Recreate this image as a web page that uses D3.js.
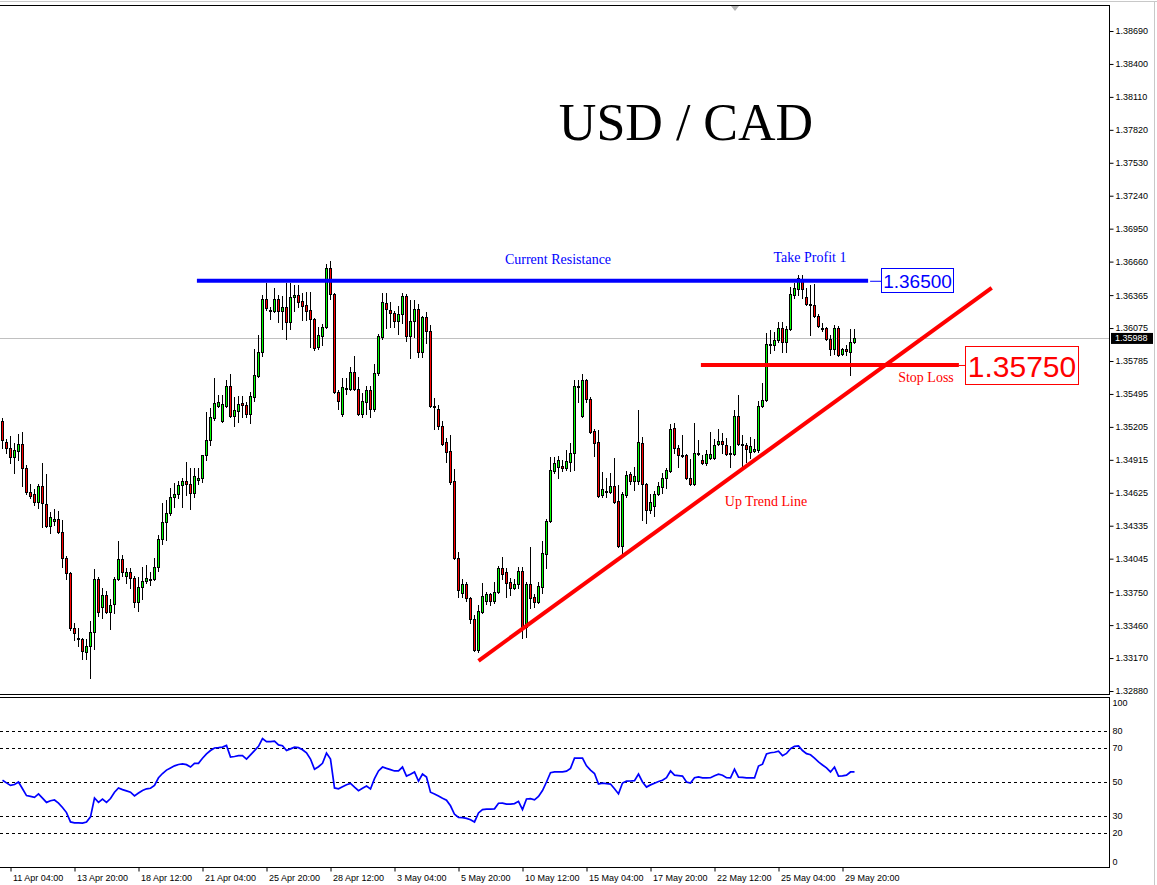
<!DOCTYPE html>
<html>
<head>
<meta charset="utf-8">
<script src="https://cdn.jsdelivr.net/npm/d3@7"></script>
<style>
  body { margin: 0; background: #fff; }
  svg { display: block; }
</style>
</head>
<body>
<script>
const w = 1157;
const h = 885;

// H4 candles
const opens = [1.35258,1.35073,1.35021,1.34941,1.34994,1.35056,1.34845,1.34633,1.34616,1.34545,
1.34686,1.34528,1.34334,1.34378,1.34396,1.34281,1.34053,1.33921,1.33437,1.33340,
1.33340,1.33225,1.33278,1.33401,1.33868,1.33621,1.33727,1.33577,1.33648,1.33868,
1.34044,1.33894,1.33929,1.33877,1.33665,1.33797,1.33850,1.33859,1.33868,1.33973,
1.34220,1.34369,1.34449,1.34589,1.34616,1.34695,1.34730,1.34704,1.34625,1.34739,
1.34757,1.34959,1.35091,1.35285,1.35390,1.35258,1.35390,1.35566,1.35302,1.35346,
1.35417,1.35399,1.35320,1.35469,1.35654,1.35865,1.36332,1.36235,1.36226,1.36332,
1.36226,1.36261,1.36129,1.36349,1.36367,1.36314,1.36279,1.36235,1.36156,1.35909,
1.36006,1.36085,1.36605,1.36376,1.35513,1.35320,1.35549,1.35540,1.35689,1.35540,
1.35320,1.35425,1.35531,1.35364,1.35681,1.35997,1.36297,1.36235,1.36209,1.36138,
1.36200,1.36358,1.36006,1.36138,1.36244,1.35865,1.36173,1.36050,1.35390,1.35364,
1.35214,1.35073,1.34994,1.34730,1.34053,1.33745,1.33824,1.33701,1.33516,1.33243,
1.33577,1.33674,1.33736,1.33674,1.33753,1.33965,1.33929,1.33841,1.33789,1.33824,
1.33938,1.33445,1.33824,1.33709,1.33665,1.33797,1.34088,1.34378,1.34818,1.34853,
1.34862,1.34845,1.34897,1.34977,1.35557,1.35302,1.35619,1.35452,1.35170,1.35073,
1.34607,1.34642,1.34633,1.34686,1.34554,1.34158,1.34607,1.34792,1.34730,1.34730,
1.35065,1.34704,1.34475,1.34510,1.34616,1.34677,1.34757,1.34818,1.35197,1.35021,
1.34959,1.34959,1.34757,1.34704,1.34977,1.34915,1.34889,1.34933,1.34933,1.35056,
1.35082,1.35047,1.34968,1.34968,1.35302,1.35056,1.35047,1.34985,1.34994,1.35003,
1.35390,1.35443,1.35936,1.35927,1.35971,1.36077,1.35953,1.36068,1.36367,1.36420,
1.36508,1.36349,1.36288,1.36279,1.36182,1.36077,1.36077,1.35980,1.35892,1.36077,
1.35848,1.35892,1.35865,1.35953];

const highs = [1.35285,1.35100,1.35126,1.35065,1.35144,1.35161,1.34871,1.34704,1.34660,1.34704,
1.34889,1.34792,1.34457,1.34484,1.34466,1.34387,1.34070,1.33929,1.33481,1.33437,
1.33349,1.33340,1.33498,1.33956,1.33885,1.33789,1.33762,1.33692,1.33885,1.34202,
1.34079,1.33965,1.33965,1.33894,1.33885,1.33973,1.33991,1.33929,1.34053,1.34255,
1.34537,1.34563,1.34669,1.34713,1.34730,1.34757,1.34897,1.34845,1.34845,1.34845,
1.34871,1.35337,1.35373,1.35637,1.35487,1.35487,1.35619,1.35672,1.35469,1.35478,
1.35478,1.35425,1.35513,1.35892,1.36015,1.36367,1.36473,1.36261,1.36429,1.36367,
1.36358,1.36473,1.36473,1.36455,1.36455,1.36385,1.36393,1.36393,1.36165,1.36085,
1.36112,1.36640,1.36666,1.36385,1.35531,1.35637,1.35637,1.35733,1.35830,1.35645,
1.35505,1.35566,1.35566,1.35760,1.36024,1.36385,1.36385,1.36305,1.36226,1.36270,
1.36385,1.36376,1.36323,1.36323,1.36288,1.36182,1.36217,1.36103,1.35461,1.35399,
1.35258,1.35109,1.35135,1.34836,1.34105,1.33868,1.33841,1.33709,1.33551,1.33639,
1.33833,1.33753,1.33745,1.33841,1.33982,1.34061,1.33965,1.33877,1.33868,1.33973,
1.33973,1.33841,1.34149,1.33736,1.33841,1.34202,1.34396,1.34941,1.34941,1.34950,
1.34915,1.35003,1.35065,1.35619,1.35619,1.35672,1.35628,1.35469,1.35188,1.35179,
1.34809,1.34757,1.34801,1.34933,1.34692,1.34633,1.34818,1.34809,1.34853,1.35355,
1.35117,1.34713,1.34616,1.34642,1.34721,1.34801,1.34845,1.35232,1.35241,1.35047,
1.35135,1.34968,1.34924,1.35241,1.35091,1.34959,1.35003,1.35161,1.35100,1.35188,
1.35153,1.35109,1.35038,1.35355,1.35487,1.35135,1.35065,1.35117,1.35100,1.35434,
1.35593,1.36033,1.36059,1.36041,1.36129,1.36129,1.36094,1.36437,1.36473,1.36543,
1.36543,1.36429,1.36455,1.36464,1.36200,1.36121,1.36085,1.36015,1.36103,1.36094,
1.35901,1.35927,1.36068,1.36068];

const lows = [1.35021,1.34977,1.34889,1.34801,1.34915,1.34686,1.34616,1.34581,1.34519,1.34493,
1.34325,1.34325,1.34273,1.34343,1.34273,1.33973,1.33868,1.33419,1.33331,1.33278,
1.33164,1.33164,1.32997,1.33252,1.33542,1.33525,1.33569,1.33428,1.33569,1.33859,
1.33894,1.33833,1.33789,1.33621,1.33586,1.33692,1.33833,1.33815,1.33859,1.33938,
1.34176,1.34211,1.34431,1.34501,1.34581,1.34501,1.34607,1.34484,1.34589,1.34704,
1.34721,1.34915,1.35047,1.35267,1.35381,1.35249,1.35381,1.35293,1.35214,1.35249,
1.35293,1.35293,1.35241,1.35434,1.35645,1.35830,1.36235,1.36156,1.36217,1.36129,
1.36068,1.35980,1.36068,1.36226,1.36261,1.36147,1.36147,1.35909,1.35883,1.35892,
1.35927,1.36077,1.36332,1.35505,1.35364,1.35302,1.35496,1.35531,1.35531,1.35311,
1.35293,1.35320,1.35293,1.35346,1.35663,1.35980,1.36077,1.36085,1.36085,1.36024,
1.36121,1.35962,1.35813,1.35997,1.35821,1.35821,1.35945,1.35381,1.35188,1.35188,
1.35047,1.34897,1.34704,1.34044,1.33709,1.33709,1.33674,1.33481,1.33234,1.33225,
1.33569,1.33648,1.33639,1.33657,1.33745,1.33868,1.33709,1.33727,1.33780,1.33789,
1.33349,1.33357,1.33613,1.33621,1.33657,1.33745,1.33965,1.34369,1.34801,1.34757,
1.34818,1.34827,1.34818,1.34827,1.35425,1.35293,1.35425,1.35153,1.34950,1.34589,
1.34589,1.34589,1.34625,1.34537,1.34149,1.34097,1.34589,1.34704,1.34651,1.34704,
1.34387,1.34361,1.34449,1.34422,1.34607,1.34625,1.34669,1.34809,1.34977,1.34853,
1.34941,1.34748,1.34695,1.34695,1.34959,1.34880,1.34871,1.34924,1.34924,1.35047,
1.34977,1.34959,1.34853,1.34959,1.35047,1.34862,1.34897,1.34933,1.34985,1.34985,
1.35381,1.35434,1.35857,1.35883,1.35953,1.35865,1.35865,1.36059,1.36341,1.36367,
1.36341,1.36279,1.36015,1.36173,1.36085,1.36050,1.35971,1.35839,1.35848,1.35830,
1.35839,1.35839,1.35663,1.35945];

const closes = [1.35091,1.35021,1.34941,1.35003,1.35056,1.34845,1.34633,1.34598,1.34545,1.34686,
1.34537,1.34334,1.34413,1.34396,1.34281,1.34053,1.33921,1.33437,1.33393,1.33349,
1.33234,1.33278,1.33401,1.33868,1.33577,1.33727,1.33577,1.33639,1.33868,1.34044,
1.33929,1.33929,1.33877,1.33665,1.33797,1.33850,1.33877,1.33868,1.33973,1.34220,
1.34369,1.34449,1.34589,1.34616,1.34695,1.34730,1.34704,1.34625,1.34774,1.34757,
1.34959,1.35091,1.35293,1.35417,1.35425,1.35408,1.35566,1.35302,1.35355,1.35408,
1.35399,1.35320,1.35478,1.35663,1.35865,1.36332,1.36253,1.36226,1.36332,1.36226,
1.36261,1.36129,1.36349,1.36367,1.36305,1.36270,1.36226,1.36156,1.35901,1.36015,
1.36085,1.36605,1.36376,1.35513,1.35434,1.35557,1.35540,1.35689,1.35540,1.35320,
1.35434,1.35531,1.35364,1.35681,1.36006,1.36305,1.36244,1.36209,1.36138,1.36200,
1.36358,1.36006,1.36138,1.36244,1.35865,1.36173,1.36050,1.35390,1.35381,1.35214,
1.35056,1.34985,1.34721,1.34053,1.33771,1.33824,1.33701,1.33516,1.33243,1.33586,
1.33718,1.33736,1.33674,1.33753,1.33965,1.33912,1.33833,1.33789,1.33824,1.33938,
1.33445,1.33824,1.33701,1.33665,1.33806,1.34097,1.34378,1.34827,1.34889,1.34915,
1.34845,1.34906,1.34977,1.35566,1.35566,1.35619,1.35452,1.35161,1.35065,1.34598,
1.34660,1.34633,1.34686,1.34545,1.34158,1.34616,1.34783,1.34730,1.34774,1.35073,
1.34704,1.34475,1.34545,1.34616,1.34686,1.34757,1.34827,1.35188,1.35021,1.34959,
1.34950,1.34757,1.34704,1.34977,1.34968,1.34889,1.34968,1.34968,1.35047,1.35082,
1.35056,1.34968,1.34977,1.35302,1.35056,1.35047,1.35012,1.35038,1.35012,1.35390,
1.35443,1.35936,1.35927,1.35971,1.36077,1.35953,1.36068,1.36376,1.36429,1.36517,
1.36420,1.36288,1.36279,1.36182,1.36094,1.36068,1.35980,1.35892,1.36077,1.35839,
1.35892,1.35874,1.35953,1.35988];

const rsiValues = [51,49.5,48,48.5,50,46,42,41.5,41,43,
40.5,38,39,39.4,37.6,35,32,26.5,26,26,
25.8,26.5,29.5,40.6,38,40,38,40.3,44,46.5,
45.5,44.8,44,41.8,43.5,45,46,46.3,48,52.5,
55,57,58.3,59.5,60.3,60.6,60.2,58.8,61,61,
64,66.5,68.5,70,70.2,70.5,71.5,64.7,65,65.5,
65.5,63.5,66,68.5,71,75.5,73.7,73.8,74,71.8,
71.3,68.5,69.5,70.5,70.2,69,67.2,63.5,57.5,59,
61,67,63.5,46.5,46,47.2,48.4,49.2,47,44.9,
46.3,47.6,45.9,52,56.5,58.8,58,57.3,56.5,56.5,
58.8,53.5,54.5,55.9,50.5,54.7,52.9,44,43,41.8,
40.5,39.3,36,31,29.2,29,28.6,27.8,26.5,31.8,
33.8,34,34,34.2,37.5,37.6,37,37,37.3,38.6,
33.8,40,40.2,39.5,41.5,45,50,55.5,55.9,55.9,
56,56.4,58,64,64,64,59.5,57,55,48.8,
49.3,49,48.8,46,43,49.4,50.5,50.6,50.8,54.7,
50,47,48.3,49.3,50.3,51,52.5,56.5,54,53.8,
53.5,50,49.4,52.5,53,52.4,52.4,52.5,53.7,54.6,
54,52.5,52.4,57.5,52.9,52.7,52.4,52.4,52.4,59.4,
60.5,66.5,67.2,67.5,68.1,65.5,66.8,69.6,71,71.2,
68.5,66.7,66,64,61.8,60,58.3,55.9,58.8,53.5,
53.6,54,55.9,55.9];

const priceTicks = [1.38690,1.38400,1.38110,1.37820,1.37530,1.37240,1.36950,1.36660,1.36365,1.36075,
1.35785,1.35495,1.35205,1.34915,1.34625,1.34335,1.34045,1.33750,1.33460,1.33170,1.32880];
const rsiTicks = [100, 80, 70, 50, 30, 20, 0];
const rsiLevels = [80, 70, 50, 30, 20];
const timeTickIdx = [2, 18, 34, 50, 66, 82, 98, 114, 130, 146, 162, 178, 194, 210];
const timeLabels = ['11 Apr 04:00','13 Apr 20:00','18 Apr 12:00','21 Apr 04:00','25 Apr 20:00','28 Apr 12:00',
  '3 May 04:00','5 May 20:00','10 May 12:00','15 May 04:00','17 May 20:00','22 May 12:00','25 May 04:00','29 May 20:00'];

const lastPrice = 1.35988;
const resistance = { price: 1.36500, from: 48.6, to: 216.4 };
const stopLoss = { price: 1.35750, from: 174.6, to: 239.1 };
const trendLine = [[119, 1.33146], [247.3, 1.36429]];

const axisX = 1109;
const main = { top: 5, bottom: 694 };
const sub = { top: 697, bottom: 867 };

const x = d3.scaleLinear().domain([0, 213]).range([2.5, 854.5]);
const y = d3.scaleLinear().domain([1.32880, 1.38690]).range([691, 31]);
const yR = d3.scaleLinear().domain([0, 100]).range([sub.bottom, sub.top]);

const svg = d3.select('body').append('svg')
  .attr('width', w)
  .attr('height', h)
  .style('font-family', '"Liberation Sans", Arial, sans-serif');

// window frame
svg.append('line').attr('x1', 0).attr('x2', w).attr('y1', 1.5).attr('y2', 1.5).attr('stroke', '#c8c8c8');
svg.append('line').attr('x1', 1154.5).attr('x2', 1154.5).attr('y1', 1).attr('y2', h).attr('stroke', '#c8c8c8');

// panels
svg.append('rect').attr('x', -1).attr('y', main.top + 0.5).attr('width', axisX + 1.5).attr('height', main.bottom - main.top)
  .attr('fill', 'none').attr('stroke', '#000');
svg.append('rect').attr('x', -1).attr('y', sub.top + 0.5).attr('width', axisX + 1.5).attr('height', sub.bottom - sub.top)
  .attr('fill', 'none').attr('stroke', '#000');

// shift marker
svg.append('path').attr('d', 'M731,6 L739,6 L735,11 Z').attr('fill', '#b4b4b4');

// title
svg.append('text')
  .attr('x', 686).attr('y', 140)
  .attr('text-anchor', 'middle')
  .style('font-family', '"Liberation Serif", "Times New Roman", serif')
  .style('font-size', '52px')
  .text('USD / CAD');

// last price line
svg.append('line')
  .attr('x1', 0).attr('x2', axisX)
  .attr('y1', Math.round(y(lastPrice)) + 0.5).attr('y2', Math.round(y(lastPrice)) + 0.5)
  .attr('stroke', '#c0c0c0');

// candles
const candles = svg.append('g').attr('shape-rendering', 'crispEdges');
const idx = d3.range(opens.length);

candles.selectAll('line.wick')
  .data(idx)
  .enter()
  .append('line')
  .attr('class', 'wick')
  .attr('x1', (i) => x(i)).attr('x2', (i) => x(i))
  .attr('y1', (i) => Math.round(y(highs[i])))
  .attr('y2', (i) => Math.round(y(lows[i])) + 1)
  .attr('stroke', '#000');

candles.selectAll('rect.body')
  .data(idx)
  .enter()
  .append('rect')
  .attr('class', 'body')
  .attr('x', (i) => x(i) - 1)
  .attr('y', (i) => Math.round(y(Math.max(opens[i], closes[i]))) + 0.5)
  .attr('width', 2)
  .attr('height', (i) => Math.max(0, Math.round(y(Math.min(opens[i], closes[i]))) - Math.round(y(Math.max(opens[i], closes[i])))))
  .attr('fill', (i) => closes[i] >= opens[i] ? '#00ff00' : '#ff0000')
  .attr('stroke', '#000');

// resistance
svg.append('line')
  .attr('x1', x(resistance.from)).attr('x2', x(resistance.to))
  .attr('y1', y(resistance.price) + 1).attr('y2', y(resistance.price) + 1)
  .attr('stroke', '#0000ff').attr('stroke-width', 4);
svg.append('line')
  .attr('x1', x(resistance.to) + 2).attr('x2', 881)
  .attr('y1', y(resistance.price) + 1.5).attr('y2', y(resistance.price) + 1.5)
  .attr('stroke', '#0000ff');
svg.append('rect')
  .attr('x', 881.5).attr('y', 268.5).attr('width', 72).attr('height', 24)
  .attr('fill', '#fff').attr('stroke', '#0000ff');
svg.append('text')
  .attr('x', 917.5).attr('y', 287.5)
  .attr('text-anchor', 'middle')
  .attr('fill', '#0000ff')
  .style('font-size', '19px')
  .text(d3.format('.5f')(resistance.price));

// stop loss
svg.append('line')
  .attr('x1', x(stopLoss.from)).attr('x2', x(stopLoss.to))
  .attr('y1', y(stopLoss.price)).attr('y2', y(stopLoss.price))
  .attr('stroke', '#ff0000').attr('stroke-width', 4);
svg.append('line')
  .attr('x1', x(stopLoss.to)).attr('x2', 965)
  .attr('y1', y(stopLoss.price) + 0.5).attr('y2', y(stopLoss.price) + 0.5)
  .attr('stroke', '#ff0000');
svg.append('rect')
  .attr('x', 965.5).attr('y', 346.5).attr('width', 113).attr('height', 38)
  .attr('fill', '#fff').attr('stroke', '#ff0000');
svg.append('text')
  .attr('x', 1022).attr('y', 377)
  .attr('text-anchor', 'middle')
  .attr('fill', '#ff0000')
  .style('font-size', '30px')
  .text(d3.format('.5f')(stopLoss.price));

// up trend line
svg.append('line')
  .attr('x1', x(trendLine[0][0])).attr('y1', y(trendLine[0][1]))
  .attr('x2', x(trendLine[1][0])).attr('y2', y(trendLine[1][1]))
  .attr('stroke', '#ff0000').attr('stroke-width', 4);

// annotations
const notes = [
  { text: 'Current Resistance', x: 558, y: 264, color: '#0000ff' },
  { text: 'Take Profit 1', x: 810, y: 262, color: '#0000ff' },
  { text: 'Stop Loss', x: 926, y: 382, color: '#ff0000' },
  { text: 'Up Trend Line', x: 766, y: 506, color: '#ff0000' }
];
svg.selectAll('text.note')
  .data(notes)
  .enter()
  .append('text')
  .attr('class', 'note')
  .attr('x', (d) => d.x).attr('y', (d) => d.y)
  .attr('text-anchor', 'middle')
  .attr('fill', (d) => d.color)
  .style('font-family', '"Liberation Serif", "Times New Roman", serif')
  .style('font-size', '14px')
  .text((d) => d.text);

// price axis
const yAxis = d3.axisRight(y)
  .tickValues(priceTicks)
  .tickSize(4)
  .tickPadding(2)
  .tickFormat(d3.format('.5f'));

svg.append('g')
  .attr('transform', `translate(${axisX + 0.5},0)`)
  .call(yAxis)
  .call((g) => g.select('.domain').remove())
  .call((g) => g.selectAll('text').style('font-size', '9px').attr('fill', '#000').style('font-family', '"Liberation Sans", Arial, sans-serif'));

// last price label
svg.append('rect')
  .attr('x', axisX + 2).attr('y', y(lastPrice) - 5)
  .attr('width', 42).attr('height', 11)
  .attr('fill', '#000');
svg.append('text')
  .attr('x', axisX + 6).attr('y', y(lastPrice) + 3.5)
  .attr('fill', '#fff')
  .style('font-size', '9px')
  .text(d3.format('.5f')(lastPrice));

// RSI panel
svg.selectAll('line.level')
  .data(rsiLevels)
  .enter()
  .append('line')
  .attr('class', 'level')
  .attr('x1', 0).attr('x2', axisX)
  .attr('y1', (d) => Math.round(yR(d)) + 0.5).attr('y2', (d) => Math.round(yR(d)) + 0.5)
  .attr('stroke', '#000')
  .attr('stroke-dasharray', '3,3');

svg.append('path')
  .datum(rsiValues)
  .attr('d', d3.line().x((d, i) => x(i)).y((d) => yR(d)))
  .attr('fill', 'none')
  .attr('stroke', '#0000ff')
  .attr('stroke-width', 1.7);

const rAxis = d3.axisRight(yR)
  .tickValues(rsiTicks)
  .tickSize(0)
  .tickPadding(3);

svg.append('g')
  .attr('transform', `translate(${axisX + 0.5},0)`)
  .call(rAxis)
  .call((g) => g.select('.domain').remove())
  .call((g) => g.selectAll('text')
    .style('font-size', '9px')
    .attr('fill', '#000')
    .style('font-family', '"Liberation Sans", Arial, sans-serif')
    .attr('dy', (d) => d === 100 ? '0.95em' : d === 0 ? '-0.3em' : '0.32em'));

// time axis
const xAxis = d3.axisBottom(x)
  .tickValues(timeTickIdx)
  .tickSize(4)
  .tickPadding(3)
  .tickFormat((d, i) => timeLabels[i]);

svg.append('g')
  .attr('transform', `translate(0,${sub.bottom + 0.5})`)
  .call(xAxis)
  .call((g) => g.select('.domain').remove())
  .call((g) => g.selectAll('text')
    .attr('text-anchor', 'start')
    .attr('x', 2)
    .style('font-size', '9px')
    .attr('fill', '#000')
    .style('font-family', '"Liberation Sans", Arial, sans-serif'));
</script>
</body>
</html>
